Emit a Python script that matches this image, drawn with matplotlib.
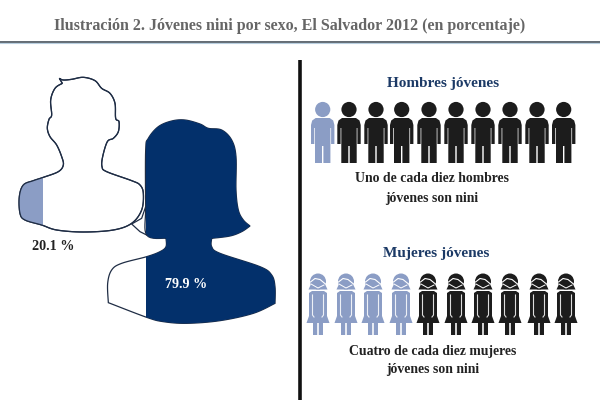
import numpy as np
import matplotlib
matplotlib.use("Agg")
import matplotlib.pyplot as plt
from matplotlib.patches import Polygon, Rectangle, Circle

plt.rcParams['font.family'] = ['Liberation Serif', 'DejaVu Serif']

# datos
sexos = ["Hombres jóvenes", "Mujeres jóvenes"]
porcentajes = [20.1, 79.9]
nini_de_diez = [1, 4]
total_personas = 10
frases_hombres = ["Uno de cada diez hombres", "jóvenes son nini"]
frases_mujeres = ["Cuatro de cada diez mujeres", "jóvenes son nini"]
titulo = "Ilustración 2. Jóvenes nini por sexo, El Salvador 2012 (en porcentaje)"

NAVY = "#03306b"
LIGHT = "#8b9dc5"
BLACK = "#1c1c1c"
OUTLINE = "#1f2d45"

# siluetas, medidas en pixeles de la imagen (punto repetido = esquina)
man = [(178,85),(178,85),(190,90),(215,88),(250,82),(285,92),(305,115),(330,130),(345,160),(347,205),
       (357,215),(355,245),(340,265),(322,275),(308,320),(306,350),(320,365),(395,392),(420,405),
       (430,430),(425,480),(395,520),(340,540),(250,546),(170,540),(125,525),(75,510),(60,490),
       (58,440),(70,405),(100,392),(130,382),(175,365),(190,345),(185,320),(170,285),(150,260),
       (142,235),(147,208),(155,195),(152,150),(165,115),(187,100),(187,100)]
woman = [(555,210),(600,222),(625,235),(665,240),(695,270),(708,320),(708,420),(715,480),(730,510),
         (750,528),(750,528),(725,545),(690,558),(635,565),(635,565),(635,590),(660,610),(780,650),(815,675),(825,710),
         (825,760),(825,760),(760,790),(660,812),(560,820),(490,815),(440,802),(325,758),(325,758),(323,700),(335,660),
         (365,640),(440,620),(480,605),(498,590),(498,565),(498,565),(440,555),(437,470),(437,300),(445,265),
         (475,230),(515,213)]
hair_left = [(437,470),(425,505),(395,522),(420,545),(440,555)]


def to_px(pts):
    a = np.array(pts, dtype=float) / 3.0
    a[:, 1] += 50
    return a


def smooth(pts, n=8):
    # catmull-rom cerrada para redondear el contorno
    p = np.asarray(pts)
    out = []
    for i in range(len(p)):
        p0, p1, p2, p3 = p[i-1], p[i], p[(i+1) % len(p)], p[(i+2) % len(p)]
        if np.all(p1 == p2):
            continue
        for t in np.linspace(0, 1, n, endpoint=False):
            out.append(0.5*((2*p1) + (-p0+p2)*t + (2*p0-5*p1+4*p2-p3)*t**2 + (-p0+3*p1-3*p2+p3)*t**3))
    return np.array(out)


fig = plt.figure(figsize=(6, 4.12), dpi=100)
ax = fig.add_axes([0, 0, 1, 1])
ax.set_xlim(0, 600)
ax.set_ylim(412, 0)
ax.axis("off")

# titulo y regla
ax.text(290, 25.5, titulo, ha="center", va="center", fontsize=11.5, fontweight="bold", color="#666666")
ax.plot([0, 600], [42, 42], color="#45505a", lw=1.2)
ax.plot([0, 600], [43.2, 43.2], color="#b9cfe0", lw=0.8)
ax.plot([299.5, 299.5], [60, 400], color="#111111", lw=2.6, solid_capstyle="butt")

# hombre
man_px = smooth(to_px(man))
outline = Polygon(man_px, closed=True, fc="white", ec=OUTLINE, lw=0.9, zorder=2)
ax.add_patch(outline)
fill = Rectangle((15, 150), 43 - 15, 80, fc=LIGHT, ec="none", zorder=2.1)
ax.add_patch(fill)
fill.set_clip_path(outline)
ax.add_patch(Polygon(man_px, closed=True, fc="none", ec=OUTLINE, lw=0.9, zorder=2.2))

# mujer
woman_px = smooth(to_px(woman))
outline = Polygon(woman_px, closed=True, fc="white", ec=OUTLINE, lw=0.9, zorder=3)
ax.add_patch(outline)
fill = Rectangle((146, 110), 140, 225, fc=NAVY, ec="none", zorder=3.1)
ax.add_patch(fill)
fill.set_clip_path(outline)
h = to_px(hair_left)
ax.plot(h[:, 0], h[:, 1], color=OUTLINE, lw=0.9, zorder=3.2)

ax.text(53, 246.5, "%.1f %%" % porcentajes[0], ha="center", va="center", fontsize=10.2,
        fontweight="bold", color="#222222", zorder=5)
ax.text(186.5, 285, "%.1f %%" % porcentajes[1], ha="center", va="center", fontsize=10.2,
        fontweight="bold", color="white", zorder=5)


def person_man(cx, color):
    ax.add_patch(Circle((cx, 109.5), 7.6, fc=color, ec="none"))
    body = [(-7, 118), (7, 118), (10.5, 120.5), (11.7, 125), (11.7, 144), (8.4, 144), (8.4, 128),
            (7.7, 128), (7.7, 163), (0.7, 163), (0.7, 146), (-0.7, 146), (-0.7, 163), (-7.7, 163),
            (-7.7, 128), (-8.4, 128), (-8.4, 144), (-11.7, 144), (-11.7, 125), (-10.5, 120.5)]
    ax.add_patch(Polygon([(cx + x, y) for x, y in body], closed=True, fc=color, ec="none"))


def person_woman(cx, color):
    ax.add_patch(Circle((cx, 281.5), 8, fc=color, ec="none"))
    ax.add_patch(Polygon([(cx - 9.5, 289.5), (cx + 9.5, 289.5), (cx + 7, 284), (cx - 7, 284)],
                         closed=True, fc=color, ec="none"))
    # flequillo y cara
    ax.plot([cx - 7.5, cx - 3, cx + 2, cx + 7.5], [282, 278.5, 279.5, 284], color="white", lw=0.8)
    ax.plot([cx - 7, cx, cx + 6], [284, 288, 285], color="white", lw=0.7)
    body = [(-6, 291), (6, 291), (9, 293), (9, 316), (11.5, 323), (5, 323), (5, 335),
            (0.8, 335), (0.8, 323), (-0.8, 323), (-0.8, 335), (-5, 335), (-5, 323),
            (-11.5, 323), (-9, 316), (-9, 293)]
    ax.add_patch(Polygon([(cx + x, y) for x, y in body], closed=True, fc=color, ec="none"))
    # separacion de brazos
    for s in (-1, 1):
        ax.plot([cx + s*5.5, cx + s*5.5, cx + s*4], [295, 315, 317], color="white", lw=0.8, alpha=0.85)


man_x = [322.7, 349, 376, 401.7, 429, 456, 483, 510, 537, 563.7]
woman_x = [318, 346, 373, 401, 428, 456, 483, 510, 539, 566]

for i in range(total_personas):
    person_man(man_x[i], LIGHT if i < nini_de_diez[0] else BLACK)
    person_woman(woman_x[i], LIGHT if i < nini_de_diez[1] else BLACK)

ax.text(443, 83, sexos[0], ha="center", va="center", fontsize=11, fontweight="bold", color="#1c3a66")
ax.text(436, 253, sexos[1], ha="center", va="center", fontsize=11, fontweight="bold", color="#1c3a66")
for y, s in zip([178, 198], frases_hombres):
    ax.text(432, y, s, ha="center", va="center", fontsize=9.9, fontweight="bold", color="#222222")
for y, s in zip([352, 369], frases_mujeres):
    ax.text(433, y, s, ha="center", va="center", fontsize=9.9, fontweight="bold", color="#222222")

fig.savefig("out.png", dpi=100)
